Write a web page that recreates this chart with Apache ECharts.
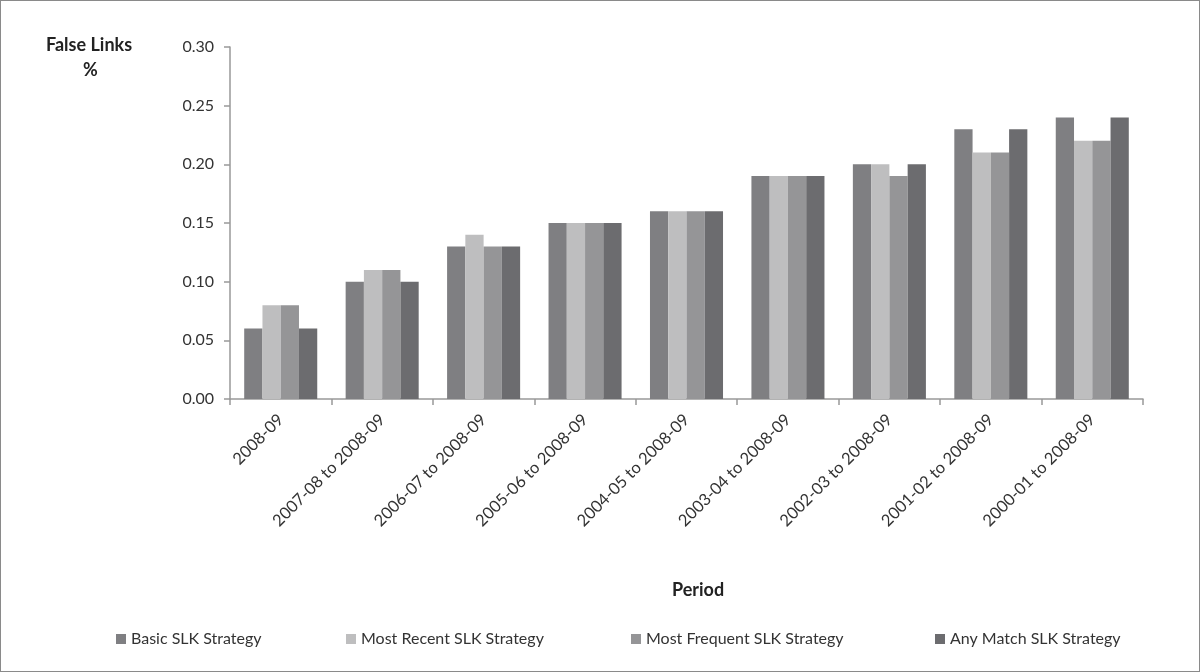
<!DOCTYPE html>
<html><head><meta charset="utf-8">
<script src="https://cdn.jsdelivr.net/npm/echarts@6/dist/echarts.min.js"></script>
<style>
html,body{margin:0;padding:0;background:#fff;}
#c{width:1200px;height:672px;box-sizing:border-box;border:1px solid #8a8a8a;}
</style></head>
<body><div id="c"></div>
<script>
const categories = ['2008-09','2007-08 to 2008-09','2006-07 to 2008-09','2005-06 to 2008-09','2004-05 to 2008-09','2003-04 to 2008-09','2002-03 to 2008-09','2001-02 to 2008-09','2000-01 to 2008-09'];
const seriesNames = ['Basic SLK Strategy','Most Recent SLK Strategy','Most Frequent SLK Strategy','Any Match SLK Strategy'];
const basic = [0.06,0.10,0.13,0.15,0.16,0.19,0.20,0.23,0.24];
const mostRecent = [0.08,0.11,0.14,0.15,0.16,0.19,0.20,0.21,0.22];
const mostFrequent = [0.08,0.11,0.13,0.15,0.16,0.19,0.19,0.21,0.22];
const anyMatch = [0.06,0.10,0.13,0.15,0.16,0.19,0.20,0.23,0.24];
const colors = ['#7f7f82','#bebebf','#959597','#6c6c6f'];
const FONT = 'Lato';
const legendLeft = [110, 340, 625, 929];

const chart = echarts.init(document.getElementById('c'));
const data = [basic, mostRecent, mostFrequent, anyMatch];
chart.setOption({
  animation:false,
  textStyle:{fontFamily:FONT,color:'#333'},
  grid:{left:229,right:56,top:46,bottom:272},
  legend: seriesNames.map((n,i)=>({
    data:[n], left:legendLeft[i], top:625, icon:'rect', itemWidth:10, itemHeight:10, itemGap:4,
    textStyle:{fontFamily:FONT,fontSize:16,color:'#333'}
  })),
  xAxis:{type:'category',data:categories,
    axisLine:{lineStyle:{color:'#999',width:1.5}},
    axisTick:{show:true,length:6,lineStyle:{color:'#999',width:1.5}},
    axisLabel:{rotate:45,margin:18,fontSize:16.5,fontFamily:FONT,color:'#333'}
  },
  yAxis:{type:'value',min:0,max:0.3,interval:0.05,
    axisLine:{show:true,lineStyle:{color:'#999',width:1.5}},
    axisTick:{show:true,length:6,lineStyle:{color:'#999',width:1.5}},
    splitLine:{show:false},
    axisLabel:{margin:16,fontSize:16,fontFamily:FONT,color:'#333',formatter:v=>v.toFixed(2)}
  },
  graphic:[
    {type:'text',left:45,top:35,style:{text:'False Links',font:'bold 18px '+FONT,fill:'#222'}},
    {type:'text',left:82,top:60,style:{text:'%',font:'bold 18px '+FONT,fill:'#222'}},
    {type:'text',left:671,top:580,style:{text:'Period',font:'bold 18px '+FONT,fill:'#222'}}
  ],
  series: data.map((d,i)=>({
    name:seriesNames[i],type:'bar',data:d,barGap:'0%',barCategoryGap:'28%',
    itemStyle:{color:colors[i]}
  }))
});
</script></body></html>
